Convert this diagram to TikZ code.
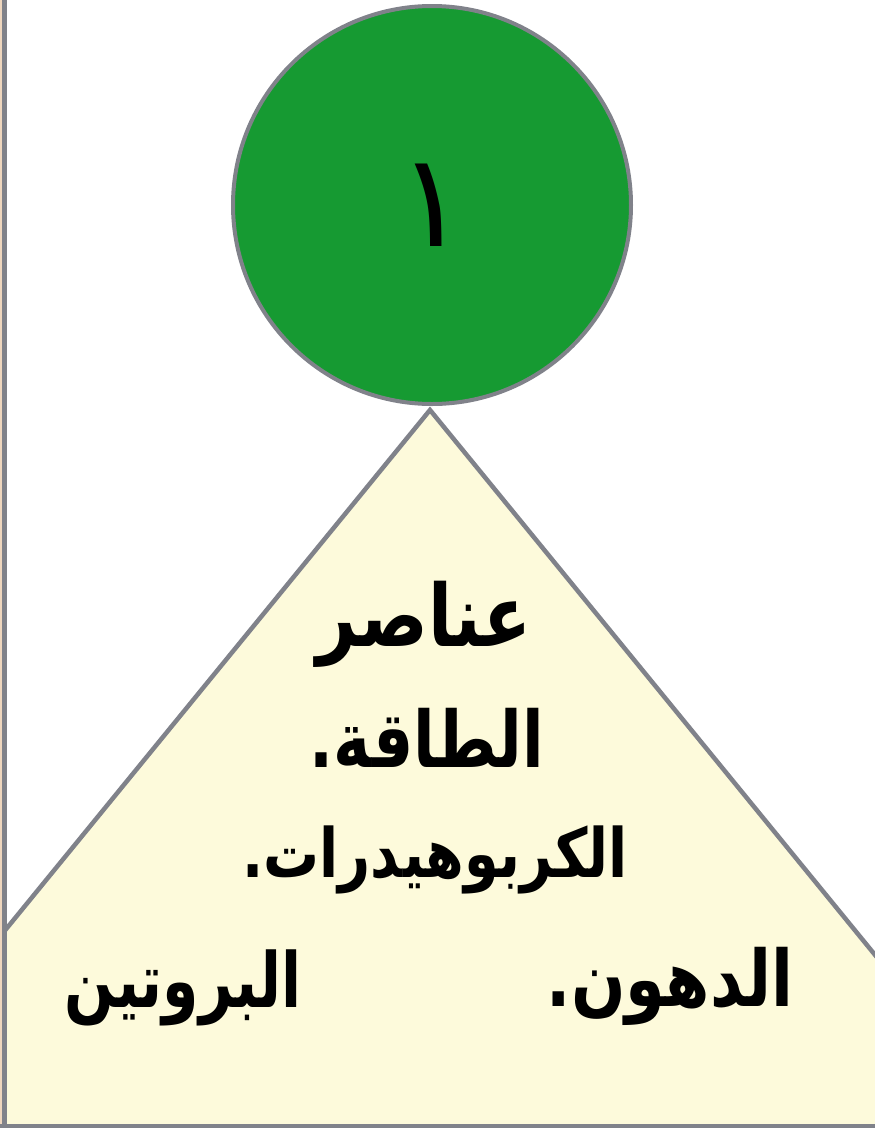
\documentclass[tikz,border=0pt]{standalone}
\usepackage{fontspec}
\newfontfamily\arabicfont[Script=Arabic]{DejaVu Sans}
\TeXXeTstate=1
\definecolor{pgreen}{RGB}{22,154,50}
\definecolor{pgray}{RGB}{128,130,138}
\definecolor{pyellow}{RGB}{253,250,219}
\definecolor{ptan}{RGB}{238,214,190}
\tikzset{
  frameline/.style={draw=pgray, line width=4.5pt},
  artext/.style={inner sep=0pt, text=black},
}
\newcommand{\arsz}[1]{\arabicfont\bfseries\fontsize{#1}{#1}\selectfont}
\newcommand{\artx}[2]{\scalebox{#1}[1]{\beginR #2\endR}}
\begin{document}
\begin{tikzpicture}[x=1pt,y=-1pt]
\useasboundingbox (0,0) rectangle (875,1128);
\fill[white] (0,0) rectangle (875,1128);
\begin{scope}
  \clip (4.5,-10) rectangle (885,1126);
  \path[fill=pyellow, draw=pgray, line width=4.5pt, line join=miter]
    (430,410) -- (-795,1910) -- (1655,1910) -- cycle;
\end{scope}
\fill[ptan] (0,0) rectangle (2,1128);
\draw[frameline] (4.5,0) -- (4.5,1128);
\draw[frameline] (0,1126) -- (875,1126);
\node[circle, fill=pgreen, draw=pgray, line width=4pt, minimum size=398pt, inner sep=0pt,
      font=\arabicfont\fontsize{130}{130}\selectfont] (num) at (432,205) {\beginR ١\endR};
\node[artext, font=\arsz{86}] (t1) at (424,624) {\artx{0.815}{عناصر}};
\node[artext, font=\arsz{78}] (t2) at (427,738) {\artx{0.81}{الطاقة.}};
\node[artext, font=\arsz{68}] (t3) at (435,860) {\artx{0.82}{الكربوهيدرات.}};
\node[artext, font=\arsz{78}] (t4) at (670,986) {\artx{0.82}{الدهون.}};
\node[artext, font=\arsz{76}] (t5) at (183,988) {\artx{0.77}{البروتين}};
\end{tikzpicture}
\end{document}
